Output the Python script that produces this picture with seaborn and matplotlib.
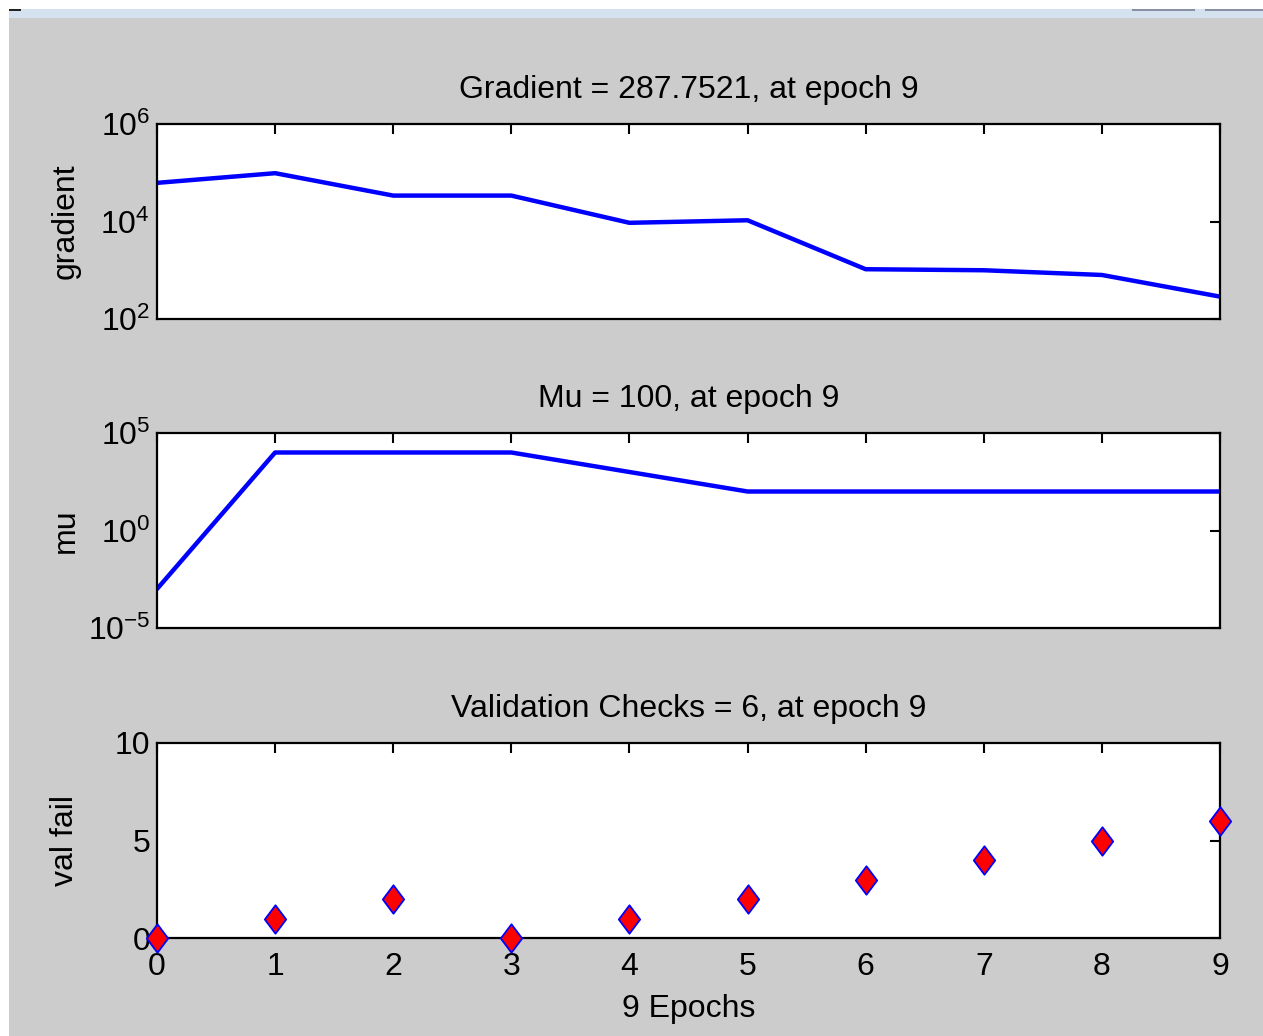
import numpy as np
import pandas as pd
import matplotlib
matplotlib.use("Agg")
import matplotlib.pyplot as plt
import seaborn as sns
from matplotlib.path import Path
from matplotlib.markers import MarkerStyle
from matplotlib.patches import Rectangle

# training state values
epochs = [0, 1, 2, 3, 4, 5, 6, 7, 8, 9]
gradient = [6.2e4, 9.8e4, 3.4e4, 3.4e4, 9.4e3, 1.06e4, 1.05e3, 1.0e3, 8.0e2, 287.7521]
mu = [1e-3, 1e4, 1e4, 1e4, 1e3, 1e2, 1e2, 1e2, 1e2, 1e2]
val_fail = [0, 1, 2, 0, 1, 2, 3, 4, 5, 6]

df = pd.DataFrame({"epoch": epochs, "gradient": gradient, "mu": mu, "val_fail": val_fail})

sns.set_style("white")
plt.rcParams["font.family"] = ["Liberation Sans", "DejaVu Sans"]
plt.rcParams["mathtext.fontset"] = "custom"
plt.rcParams["mathtext.rm"] = "Liberation Sans"
plt.rcParams["mathtext.it"] = "Liberation Sans"
plt.rcParams["text.color"] = "black"
plt.rcParams["axes.labelcolor"] = "black"

W, H = 1263, 1036
fig = plt.figure(figsize=(W / 100, H / 100), dpi=100, facecolor="white")

# window chrome: grey figure area, light blue bar on top
fig.patches.append(Rectangle((9 / W, 0), 1 - 9 / W, 1 - 18 / H, transform=fig.transFigure,
                             facecolor="#cccccc", edgecolor="none", zorder=-10))
fig.patches.append(Rectangle((9 / W, 1 - 18 / H), 1 - 9 / W, 9 / H, transform=fig.transFigure,
                             facecolor="#d4e1ef", edgecolor="none", zorder=-10))
for x0, x1 in [(1132, 1195), (1205, 1263)]:
    fig.patches.append(Rectangle((x0 / W, 1 - 11 / H), (x1 - x0) / W, 2 / H, transform=fig.transFigure,
                                 facecolor="#8890a4", edgecolor="none", zorder=-9))
fig.patches.append(Rectangle((9 / W, 1 - 11 / H), 12 / W, 2 / H, transform=fig.transFigure,
                             facecolor="#222222", edgecolor="none", zorder=-9))

left, width = 157 / W, (1220 - 157) / W
hgt = 195 / H
ax1 = fig.add_axes([left, 1 - 319 / H, width, hgt])
ax2 = fig.add_axes([left, 1 - 628 / H, width, hgt])
ax3 = fig.add_axes([left, 1 - 938 / H, width, hgt])

fs = 23
blue = "#0000ff"

sns.lineplot(data=df, x="epoch", y="gradient", ax=ax1, color=blue, linewidth=3.2)
ax1.set_yscale("log")
ax1.set_ylim(1e2, 1e6)
ax1.set_yticks([1e2, 1e4, 1e6])
ax1.set_yticklabels([r"$10^{2}$", r"$10^{4}$", r"$10^{6}$"])
ax1.set_ylabel("gradient")
ax1.set_title("Gradient = 287.7521, at epoch 9")

sns.lineplot(data=df, x="epoch", y="mu", ax=ax2, color=blue, linewidth=3.2)
ax2.set_yscale("log")
ax2.set_ylim(1e-5, 1e5)
ax2.set_yticks([1e-5, 1e0, 1e5])
ax2.set_yticklabels([r"$10^{-5}$", r"$10^{0}$", r"$10^{5}$"])
ax2.set_ylabel("mu")
ax2.set_title("Mu = 100, at epoch 9")

diamond = MarkerStyle(Path([(0, 1), (0.75, 0), (0, -1), (-0.75, 0), (0, 1)],
                           [Path.MOVETO, Path.LINETO, Path.LINETO, Path.LINETO, Path.CLOSEPOLY]))
sns.scatterplot(data=df, x="epoch", y="val_fail", ax=ax3, marker=diamond, s=420,
                color="#ff0000", edgecolor=blue, linewidth=1.3, clip_on=False, zorder=5)
ax3.set_ylim(0, 10)
ax3.set_yticks([0, 5, 10])
ax3.set_ylabel("val fail")
ax3.set_title("Validation Checks = 6, at epoch 9")
ax3.set_xlabel("9 Epochs", fontsize=fs, labelpad=9)

for ax in (ax1, ax2, ax3):
    ax.set_facecolor("white")
    ax.set_xlim(0, 9)
    ax.set_xticks(epochs)
    ax.minorticks_off()
    ax.tick_params(direction="in", length=7, width=1.5, top=True, right=True,
                   labelsize=fs, colors="black")
    ax.tick_params(axis="x", pad=10)
    ax.tick_params(axis="y", pad=5)
    for sp in ax.spines.values():
        sp.set_color("black")
        sp.set_linewidth(1.6)
    ax.set_title(ax.get_title(), fontsize=fs, pad=19, color="black")
    ax.yaxis.label.set_fontsize(fs)
    ax.yaxis.set_label_coords(-0.072, 0.5)
    if ax is not ax3:
        ax.set_xlabel("")
        ax.tick_params(labelbottom=False)

fig.savefig("out.png", dpi=100, facecolor=fig.get_facecolor())
